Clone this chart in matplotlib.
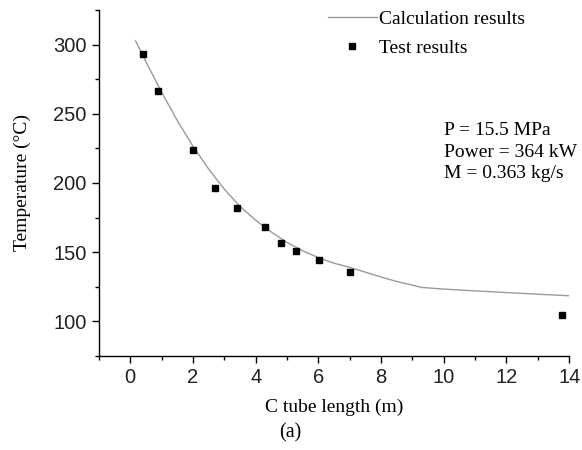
import numpy as np
import matplotlib.pyplot as plt
from matplotlib.ticker import MultipleLocator

# calculation curve
calc_x = [0.17, 0.5, 1, 1.5, 2, 2.5, 3, 3.5, 4, 4.5, 5, 5.5, 6, 6.5, 7, 7.5, 8, 8.5, 9.3, 10, 11, 12, 13, 14]
calc_y = [302.6, 287.5, 265.5, 245, 226.5, 210, 195.5, 183, 173, 164.5, 157, 151, 146, 142, 139, 135.5, 132, 128.8, 124.5, 123.3, 122, 120.8, 119.6, 118.5]

# test results
test_x = [0.39, 0.89, 1.99, 2.69, 3.39, 4.29, 4.82, 5.30, 6.03, 7.01, 13.77]
test_y = [293, 266.5, 224, 196.5, 182, 168.3, 156.3, 150.5, 144.3, 135.6, 104.5]

serif = 'Liberation Serif'
sans = 'Liberation Sans'

fig = plt.figure(figsize=(5.82, 4.5), dpi=100)
ax = fig.add_axes([0.170, 0.209, 0.808, 0.769])

ax.plot(calc_x, calc_y, color='#9a9a9a', lw=1.0, label='Calculation results')
ax.plot(test_x, test_y, 's', color='black', ms=5, label='Test results')

ax.set_xlim(-1, 14)
ax.set_ylim(75, 325)
ax.xaxis.set_major_locator(MultipleLocator(2))
ax.xaxis.set_minor_locator(MultipleLocator(1))
ax.yaxis.set_major_locator(MultipleLocator(50))
ax.yaxis.set_minor_locator(MultipleLocator(25))
ax.set_yticks([100, 150, 200, 250, 300])

for s in ['top', 'right']:
    ax.spines[s].set_visible(False)
for s in ['left', 'bottom']:
    ax.spines[s].set_linewidth(1.0)

ax.tick_params(which='major', direction='out', length=5, width=1, labelsize=14.5, pad=4)
ax.tick_params(which='minor', direction='out', length=3, width=1)
for lab in ax.get_xticklabels() + ax.get_yticklabels():
    lab.set_fontfamily(sans)
    lab.set_color('#222222')

ax.set_xlabel('C tube length (m)', fontfamily=serif, fontsize=14, labelpad=8)
ax.set_ylabel('Temperature (°C)', fontfamily=serif, fontsize=14, labelpad=16)

leg = ax.legend(loc='upper left', bbox_to_anchor=(0.487, 1.0), bbox_transform=ax.transAxes,
                frameon=False, prop={'family': serif, 'size': 14},
                handlelength=2.5, handletextpad=0.15, labelspacing=0.6, borderaxespad=0,
                borderpad=0)

ax.text(0.734, 0.675, 'P = 15.5 MPa\nPower = 364 kW\nM = 0.363 kg/s', transform=ax.transAxes,
        fontfamily=serif, fontsize=14, va='top', ha='left', linespacing=1.34)

fig.text(0.498, 0.038, '(a)', fontfamily=serif, fontsize=14.5, ha='center', va='center')

fig.savefig('out.png', dpi=100)
